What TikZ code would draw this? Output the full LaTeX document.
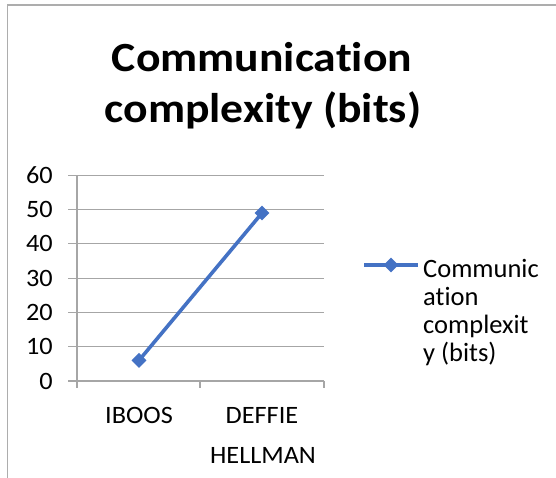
\documentclass[tikz,border=0pt]{standalone}
\usepackage{fontspec}
\setmainfont{Carlito}[Ligatures=NoCommon]
\newcommand{\nolig}{\kern0pt{}}
\definecolor{serblue}{HTML}{4472C4}
\definecolor{gridgray}{HTML}{A6A6A6}
\definecolor{framegray}{HTML}{ADADAD}
\usetikzlibrary{shapes.geometric}
\tikzset{
  ticklbl/.style={font=\fontsize{25}{29}\selectfont, xscale=1.05, transform shape, inner sep=0pt},
  catlbl/.style={font=\fontsize{25}{29}\selectfont, xscale=1.05, transform shape, inner sep=0pt, anchor=base},
  leglbl/.style={font=\fontsize{26.5}{28}\selectfont, inner sep=0pt, anchor=base west},
  titlelbl/.style={font=\fontsize{41.5}{50}\selectfont\bfseries, xscale=1.1, transform shape, inner sep=0pt, anchor=base},
  grid line/.style={draw=gridgray, line width=1.2pt},
  series/.style={draw=serblue, line width=3.6pt},
  marker/.style={fill=serblue, draw=none, diamond, minimum width=15pt, minimum height=15pt, inner sep=0pt}
}
\begin{document}
\begin{tikzpicture}[x=1pt, y=-1pt]
\useasboundingbox (0,0) rectangle (556,478);
% frame
\draw[framegray, line width=1.5pt] (556,5) -- (7.5,5) -- (7.5,478);
% gridlines and value labels
\foreach \v [count=\i from 0] in {0,10,20,30,40,50,60} {
  \pgfmathsetmacro{\yy}{381-\i*34.3}
  \draw[grid line] (68,\yy) -- (324,\yy);
  \node[ticklbl, anchor=east] (y\v) at (53,\yy) {\v};
}
% vertical axis
\draw[grid line] (77,175.2) -- (77,388);
% category ticks
\draw[grid line] (200,381) -- (200,388);
\draw[grid line] (324,381) -- (324,388);
% category labels
\node[catlbl] (c1) at (139,423) {IBOOS};
\node[catlbl] (c2a) at (262,423) {DEFFIE};
\node[catlbl] (c2b) at (263,463) {HELLMAN};
% series
\node[marker] (p1) at (139,360.4) {};
\node[marker] (p2) at (262,213) {};
\draw[series] (p1.center) -- (p2.center);
% legend
\coordinate (l1) at (364,265);
\coordinate (l2) at (418,265);
\draw[series] (l1) -- (l2);
\node[marker] (lm) at (391,265) {};
\node[leglbl] (t1) at (423,277) {Communic};
\node[leglbl] (t2) at (423,305.3) {at\nolig ion};
\node[leglbl] (t3) at (423,333.6) {complexit};
\node[leglbl] (t4) at (423,361.9) {y (bits)};
% title
\node[titlelbl] (ti1) at (262,72) {Communicat\nolig ion};
\node[titlelbl] (ti2) at (263,123) {complexity (bits)};
\end{tikzpicture}
\end{document}
